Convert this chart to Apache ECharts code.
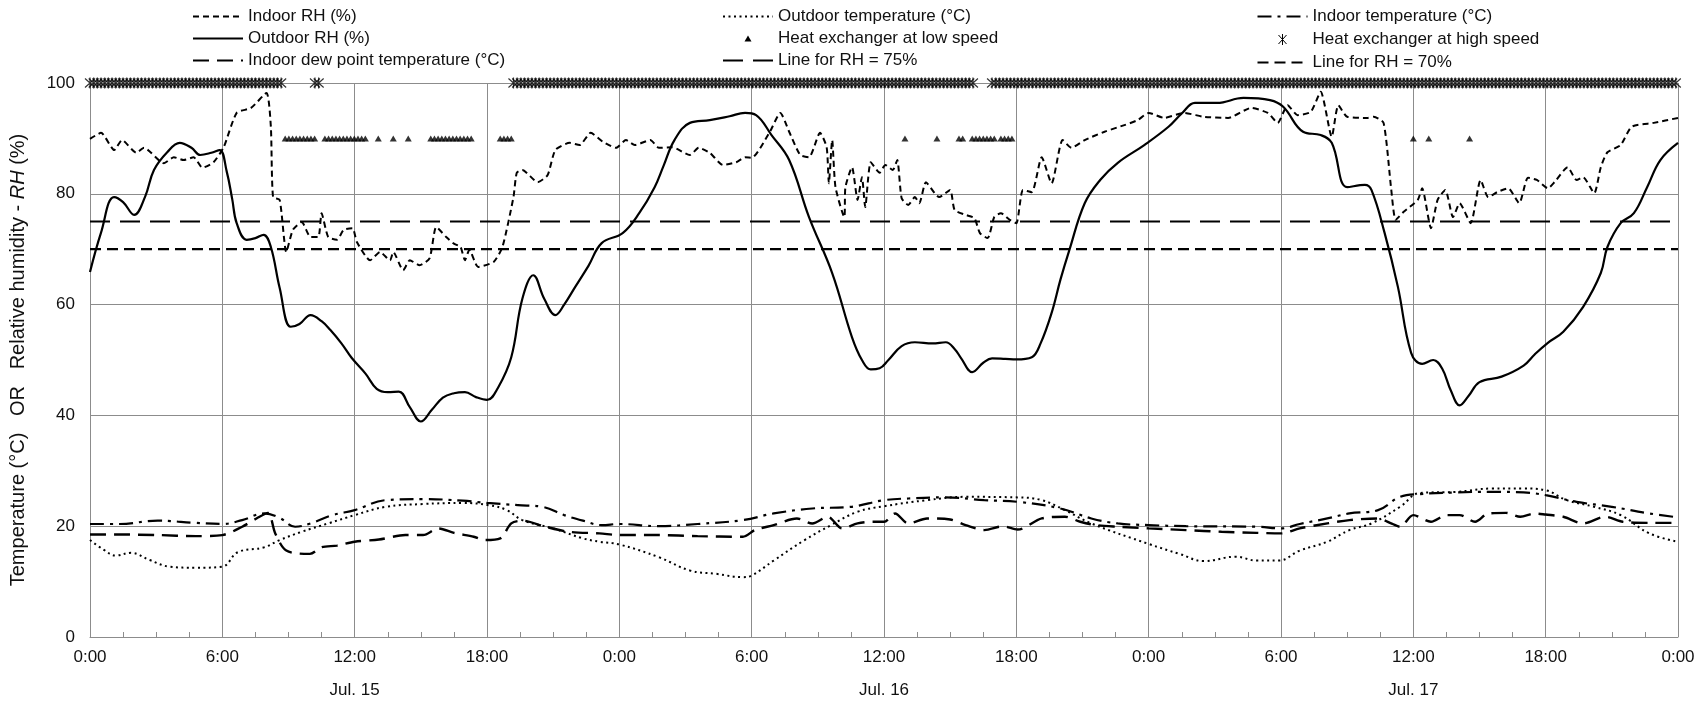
<!DOCTYPE html>
<html>
<head>
<meta charset="utf-8">
<script src="https://cdn.jsdelivr.net/npm/echarts@6/dist/echarts.min.js"></script>
<style>
html,body{margin:0;padding:0;background:#fff;}
#chart{width:1707px;height:706px;}
</style>
</head>
<body>
<div id="chart"></div>
<script>
// ---------- DATA (hours from Jul. 15 0:00) ----------
const dayLabels = ['Jul. 15', 'Jul. 16', 'Jul. 17'];

const indoorRH = [[0,89.9],[0.5,91.0],[1.1,87.9],[1.45,89.7],[2.1,87.4],[2.45,88.3],[3.35,85.5],[3.8,86.6],[4.25,86.1],[4.7,86.6],[5.1,84.7],[5.6,85.7],[6.06,88.4],[6.65,94.6],[7.3,95.5],[8.0,98.2],[8.2,92.1],[8.3,79.4],[8.6,78.9],[8.9,69.5],[9.2,73.5],[9.6,74.9],[10.0,72.2],[10.35,72.2],[10.5,76.5],[10.8,72.2],[11.2,71.7],[11.5,73.5],[11.9,73.8],[12.1,71.3],[12.7,68.0],[13.15,69.5],[13.6,68.0],[13.75,69.5],[14.2,66.2],[14.5,68.0],[14.95,67.1],[15.4,68.4],[15.7,74.0],[16.15,72.2],[16.5,71.0],[16.8,70.4],[17.0,68.0],[17.2,69.9],[17.6,66.8],[18.3,67.7],[18.7,70.4],[19.2,79.4],[19.35,83.8],[19.6,84.3],[20.3,82.1],[20.75,83.4],[21.1,87.9],[21.75,89.2],[22.2,88.8],[22.7,91.0],[23.25,89.4],[23.85,88.3],[24.3,89.7],[24.7,88.8],[25.4,89.7],[25.8,88.3],[26.4,88.4],[27.2,87.0],[27.6,88.3],[28.1,87.4],[28.7,85.2],[29.3,85.7],[29.7,86.6],[30.0,86.5],[30.8,91.0],[31.3,94.6],[31.7,91.2],[32.2,87.0],[32.6,86.6],[33.1,91.0],[33.4,88.4],[33.5,81.9],[33.65,89.7],[33.8,81.2],[34.2,75.8],[34.25,81.2],[34.55,84.8],[34.8,78.9],[35.0,83.0],[35.15,77.6],[35.4,85.7],[35.8,83.8],[36.06,85.2],[36.4,84.3],[36.6,86.1],[36.8,79.2],[37.1,78.0],[37.4,79.4],[37.6,78.3],[37.9,82.1],[38.3,80.1],[38.5,79.4],[39.0,80.7],[39.2,77.1],[39.7,76.2],[40.1,75.6],[40.35,72.9],[40.7,72.0],[41.0,75.8],[41.3,76.5],[41.7,75.3],[42.0,74.7],[42.3,80.7],[42.7,80.3],[43.15,86.6],[43.6,81.9],[44.1,89.7],[44.5,88.3],[45.1,89.7],[46.0,91.2],[46.9,92.4],[47.5,93.3],[48.0,94.6],[48.7,93.7],[49.6,94.6],[50.5,93.9],[51.6,93.7],[52.65,95.5],[53.4,94.6],[53.85,92.8],[54.3,96.0],[54.75,94.2],[55.35,94.8],[55.8,98.4],[56.3,90.3],[56.6,96.0],[57.0,93.9],[57.9,93.7],[58.2,93.9],[58.65,92.8],[59.0,80.7],[59.2,75.3],[59.55,76.7],[60.2,78.9],[60.4,81.0],[60.8,73.8],[61.1,78.9],[61.45,80.7],[61.8,75.8],[62.1,78.3],[62.6,74.7],[63.05,82.5],[63.4,79.4],[63.8,80.3],[64.3,81.0],[64.8,78.3],[65.2,82.9],[65.6,82.5],[66.1,81.0],[66.4,82.1],[67.0,84.8],[67.4,82.5],[67.7,83.0],[68.2,80.1],[68.5,84.8],[68.8,87.5],[69.4,88.8],[69.9,92.1],[70.9,92.8],[72.0,93.7]];

const outdoorRH = [[0,65.9],[0.5,73],[1.09,79.4],[1.5,78.5],[2,76.2],[2.5,79.5],[2.9,84.3],[3.5,87.5],[4.07,89.2],[4.6,88.3],[5,87],[5.5,87.4],[5.88,87.9],[6.2,84],[6.45,79],[6.65,74.7],[7.1,71.7],[7.5,72],[7.87,72.6],[8.2,70.4],[8.6,63],[9.1,56],[9.5,56.5],[10,58.1],[10.5,57],[10.9,55.4],[11.4,53],[11.86,50.4],[12.5,47.5],[13,44.8],[13.5,44.2],[14,44.3],[14.5,41.5],[15,38.9],[15.5,41],[16,43.2],[16.5,44],[17,44.2],[17.5,43.3],[18,42.8],[18.5,45],[19.1,50.5],[19.6,61],[20.1,65.3],[20.6,61],[21.1,58.1],[21.5,60],[22,63.2],[22.6,67],[23.2,71.1],[24.15,72.9],[24.9,76.5],[25.6,81.2],[26,85],[26.5,89.7],[27.2,92.8],[28.1,93.3],[29,94],[29.7,94.6],[30.2,94.2],[30.9,90.6],[31.7,86.1],[32.6,75.8],[33.65,65.7],[34.55,54.1],[35,50],[35.4,48.3],[35.8,48.5],[36.2,50],[36.8,52.5],[37.4,53.2],[38.2,53],[38.8,53.2],[39.2,52],[39.5,50.3],[40,47.8],[40.5,49.5],[40.9,50.3],[41.5,50.2],[42,50.1],[42.7,50.5],[43.1,53],[43.6,58.5],[44,64.5],[44.4,69.8],[45.1,78.3],[45.8,82.5],[46.6,85.6],[47.8,88.8],[48.9,92.1],[49.5,94.5],[50.1,96.4],[51.1,96.4],[52.3,97.3],[53.5,96.9],[54.1,95.7],[55,91.2],[55.8,90.6],[56.3,89.2],[57,81.2],[57.8,81.6],[58.1,80.7],[58.7,72.9],[59.3,63.2],[59.9,51.3],[60.4,49.3],[60.9,50],[61.3,48.5],[61.7,44.5],[62.1,41.8],[62.5,43.5],[63,46],[64,47],[65,49],[65.5,51],[66.1,53.1],[66.8,55.1],[67.7,59.6],[68.5,65.7],[68.8,70.4],[69.4,74.7],[70,76.5],[70.6,81.2],[71.2,86.1],[72,89.2]];

const indoorDewPoint = [[0,18.5],[1.34,18.5],[3.07,18.4],[4.8,18.2],[6.0,18.4],[6.9,19.9],[7.55,21.4],[8.07,22.4],[8.4,18.7],[8.9,15.6],[9.97,15.0],[10.5,16.2],[11.2,16.5],[12.0,17.2],[13.1,17.6],[14.3,18.4],[15.1,18.4],[15.8,19.6],[16.5,18.8],[17.4,18.1],[17.9,17.5],[18.6,17.8],[19.1,20.5],[19.6,21.0],[20.65,19.9],[21.7,19.0],[23.1,18.7],[24.0,18.4],[25.8,18.4],[27.55,18.2],[29.6,18.1],[30.15,19.3],[31.0,20.2],[32.05,21.4],[32.75,20.5],[33.45,21.7],[34.1,19.6],[34.8,20.5],[35.5,20.8],[36.0,20.8],[36.5,22.3],[37.1,20.5],[37.95,21.4],[39.0,21.2],[39.7,20.2],[40.55,19.3],[41.4,20.0],[42.06,19.4],[43.15,21.4],[44.2,21.7],[44.9,20.8],[45.6,20.2],[46.6,19.9],[48.0,19.6],[49.7,19.3],[51.3,19.0],[52.9,18.8],[54.0,18.7],[54.85,19.6],[56.1,20.5],[57.1,21.1],[58.4,21.4],[59.05,20.4],[59.4,19.9],[60.0,22.0],[60.8,20.8],[61.5,22.0],[62.1,22.0],[62.8,20.8],[63.4,22.3],[64.2,22.4],[64.85,21.7],[65.5,22.3],[66.0,22.1],[66.8,21.7],[67.7,20.5],[68.7,21.7],[69.5,20.8],[70.7,20.6],[72.0,20.6]];

const outdoorTemp = [[0,17.5],[0.6,15.8],[1.17,14.7],[1.86,15.2],[2.7,13.9],[3.6,12.7],[4.8,12.5],[6.0,12.7],[6.7,15.3],[7.9,16.2],[8.6,17.5],[9.6,19.0],[10.8,20.5],[12.0,22.0],[13.4,23.5],[15.1,24.0],[16.9,24.2],[18.07,23.8],[18.9,22.9],[19.6,21.1],[21.0,19.6],[22.35,17.8],[23.1,17.2],[24.0,16.7],[25.8,14.4],[27.2,12.0],[28.4,11.4],[29.6,10.8],[30.0,11.1],[31.0,13.8],[32.4,17.5],[33.6,20.2],[34.8,22.6],[36.0,23.6],[37.95,24.7],[39.7,25.3],[42.06,25.2],[43.15,24.7],[44.2,22.9],[45.4,20.5],[48.0,16.8],[49.4,15.0],[50.5,13.7],[51.95,14.5],[52.9,13.8],[53.9,13.8],[54.85,15.6],[56.1,17.2],[57.1,19.3],[58.1,20.5],[59.4,23.5],[60.3,26.0],[61.95,26.2],[63.55,26.8],[65.0,26.8],[66.0,26.5],[66.95,24.7],[68.2,23.5],[69.4,22.0],[70.7,18.7],[72.0,17.2]];

const indoorTemp = [[0,20.4],[1.34,20.4],[3.07,21.0],[4.8,20.6],[6.0,20.4],[6.9,21.1],[7.9,22.3],[8.6,21.5],[9.3,19.9],[10.0,20.5],[11.0,22.0],[12.0,22.9],[13.4,24.7],[15.1,24.9],[16.9,24.6],[18.0,24.2],[19.4,23.8],[20.5,23.5],[21.5,22.0],[22.35,21.0],[23.2,20.2],[24.0,20.4],[25.8,20.0],[27.55,20.4],[29.6,21.1],[31.0,22.3],[32.75,23.2],[34.5,23.5],[36.0,24.7],[37.1,25.0],[38.8,25.2],[40.55,24.7],[42.06,24.4],[44.0,23.2],[45.4,21.4],[46.6,20.5],[48.0,20.2],[49.7,20.0],[52.9,19.9],[54.0,19.6],[54.85,20.4],[56.1,21.4],[57.1,22.3],[58.4,22.9],[59.4,25.3],[60.3,25.8],[61.95,26.1],[63.55,26.2],[65.0,26.1],[66.0,25.6],[67.4,24.4],[69.0,23.5],[70.7,22.3],[72.0,21.6]];

// Heat exchanger operating periods [start h, end h], logged every 10 min
const LOG_STEP_H = 1 / 6;
const lowSpeedPeriods = [[8.85,10.3],[10.65,12.5],[13.07,13.07],[13.75,13.75],[14.43,14.43],[15.45,17.4],[18.6,19.1],[36.95,36.95],[38.4,38.4],[39.4,39.6],[40.0,41.0],[41.3,41.9],[60.0,60.0],[60.7,60.7],[62.55,62.55]];
const highSpeedPeriods = [[0,8.8],[10.2,10.5],[19.2,40.1],[40.9,72]];
const LOW_SPEED_LEVEL = 90;
const HIGH_SPEED_LEVEL = 100;

const rhLimit75 = 75;
const rhLimit70 = 70;
const X_MIN = 0, X_MAX = 72;

// ---------- helpers ----------
function periodsToPoints(periods, level) {
  const pts = [];
  periods.forEach(function (p) {
    for (let t = p[0]; t <= p[1] + 1e-9; t += LOG_STEP_H) pts.push([t, level]);
  });
  return pts;
}

const FONT = "'Liberation Sans', Arial, sans-serif";
const GRAY = '#8c8c8c';
const TXT = '#111';

const asteriskPath = 'path://M0,0 L10,10 M10,0 L0,10 M5,-1 L5,11';

const chart = echarts.init(document.getElementById('chart'));

function legendCol(left, names, extra) {
  return Object.assign({
    orient: 'vertical', left: left, top: 8, padding: 0,
    itemWidth: 50, itemHeight: 14, itemGap: 5,
    textStyle: { fontFamily: FONT, fontSize: 17, color: TXT, lineHeight: 17 },
    itemStyle: { opacity: 0 },
    selectedMode: false,
    data: names
  }, extra || {});
}

const option = {
  animation: false,
  backgroundColor: '#fff',
  grid: { left: 86, right: 29, top: 83, bottom: 69, containLabel: false },
  legend: [
    legendCol(192, ['Indoor RH (%)', 'Outdoor RH (%)', 'Indoor dew point temperature (°C)']),
    legendCol(722, [
      'Outdoor temperature (°C)',
      { name: 'Heat exchanger at low speed', icon: 'path://M0,0 M50,14 M21.5,10 L25,4 L28.5,10 Z',
        itemStyle: { opacity: 1, color: '#000', borderWidth: 0 } },
      'Line for RH = 75%'
    ]),
    legendCol(1255, [
      'Indoor temperature (°C)',
      { name: 'Heat exchanger at high speed', icon: 'path://M0,0 M50,14 M21,2.5 L29,11.5 M29,2.5 L21,11.5 M25,1.5 L25,12.5',
        itemStyle: { opacity: 1, color: 'none', borderColor: '#000', borderWidth: 1 } },
      'Line for RH = 70%'
    ])
  ],
  xAxis: [
    {
      type: 'value', min: X_MIN, max: X_MAX, interval: 6,
      axisLine: { show: true, lineStyle: { color: GRAY, width: 1 } },
      axisTick: { show: true, inside: true, length: 5, lineStyle: { color: GRAY } },
      minorTick: { show: true, splitNumber: 4, length: 5, lineStyle: { color: GRAY } },
      splitLine: { show: true, lineStyle: { color: GRAY, width: 1 } },
      axisLabel: {
        margin: 12, fontFamily: FONT, fontSize: 17, color: TXT,
        formatter: function (v) { return (Math.round(v) % 24) + ':00'; }
      }
    },
    {
      type: 'category', position: 'bottom', offset: 33, data: dayLabels, boundaryGap: true,
      axisLine: { show: false }, axisTick: { show: false }, splitLine: { show: false },
      axisLabel: { margin: 12, fontFamily: FONT, fontSize: 17, color: TXT, interval: 0 }
    }
  ],
  yAxis: {
    type: 'value', min: 0, max: 100, interval: 20,
    axisLine: { show: true, lineStyle: { color: GRAY, width: 1 } },
    axisTick: { show: false },
    splitLine: { show: true, lineStyle: { color: GRAY, width: 1 } },
    axisLabel: { margin: 15, fontFamily: FONT, fontSize: 17, color: TXT },
    name: '{n|Temperature (°C)   OR   Relative humidity - }{i|RH}{n| (%)}',
    nameLocation: 'middle', nameRotate: 90, nameGap: 62,
    nameTextStyle: {
      fontFamily: FONT, fontSize: 20, color: TXT,
      rich: {
        n: { fontFamily: FONT, fontSize: 20, color: TXT },
        i: { fontFamily: FONT, fontSize: 20, color: TXT, fontStyle: 'italic' }
      }
    }
  },
  series: [
    {
      name: 'Indoor RH (%)', type: 'line', data: indoorRH, symbol: 'none', smooth: 0.2,
      lineStyle: { color: '#000', width: 2, type: [6, 4] }, itemStyle: { color: '#000' }, z: 5
    },
    {
      name: 'Outdoor RH (%)', type: 'line', data: outdoorRH, symbol: 'none', smooth: 0.4,
      lineStyle: { color: '#000', width: 2.2, type: 'solid' }, itemStyle: { color: '#000' }, z: 5
    },
    {
      name: 'Indoor dew point temperature (°C)', type: 'line', data: indoorDewPoint, symbol: 'none', smooth: 0.3,
      lineStyle: { color: '#000', width: 2.4, type: [16, 8] }, itemStyle: { color: '#000' }, z: 5
    },
    {
      name: 'Outdoor temperature (°C)', type: 'line', data: outdoorTemp, symbol: 'none', smooth: 0.4,
      lineStyle: { color: '#000', width: 2, type: [2, 3.5] }, itemStyle: { color: '#000' }, z: 5
    },
    {
      name: 'Heat exchanger at low speed', type: 'scatter',
      data: periodsToPoints(lowSpeedPeriods, LOW_SPEED_LEVEL),
      symbol: 'triangle', symbolSize: [7, 6], itemStyle: { color: '#000' }, z: 6
    },
    {
      name: 'Line for RH = 75%', type: 'line', data: [[X_MIN, rhLimit75], [X_MAX, rhLimit75]], symbol: 'none',
      lineStyle: { color: '#000', width: 2.2, type: [20, 10] }, itemStyle: { color: '#000' }, z: 4
    },
    {
      name: 'Indoor temperature (°C)', type: 'line', data: indoorTemp, symbol: 'none', smooth: 0.4,
      lineStyle: { color: '#000', width: 2.2, type: [14, 6, 3, 6] }, itemStyle: { color: '#000' }, z: 5
    },
    {
      name: 'Heat exchanger at high speed', type: 'scatter',
      data: periodsToPoints(highSpeedPeriods, HIGH_SPEED_LEVEL),
      symbol: asteriskPath, symbolSize: [10, 11],
      itemStyle: { color: 'none', borderColor: '#000', borderWidth: 1.3 }, z: 6
    },
    {
      name: 'Line for RH = 70%', type: 'line', data: [[X_MIN, rhLimit70], [X_MAX, rhLimit70]], symbol: 'none',
      lineStyle: { color: '#000', width: 2.2, type: [11, 6] }, itemStyle: { color: '#000' }, z: 4
    }
  ]
};
chart.setOption(option);
</script>
</body>
</html>
